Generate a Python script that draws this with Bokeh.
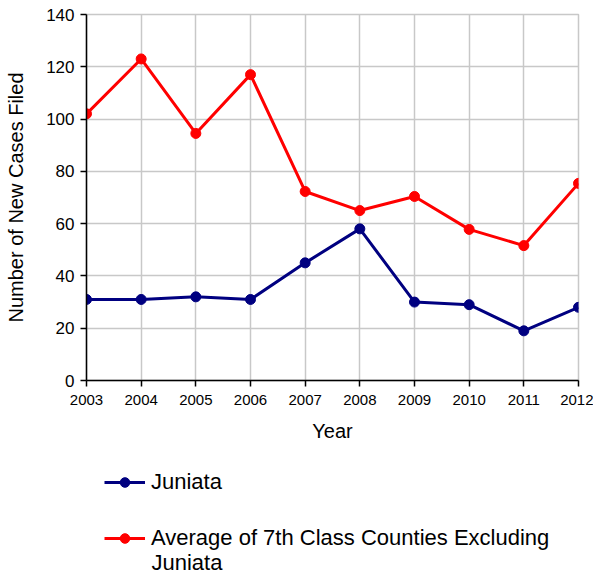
from bokeh.plotting import figure
from bokeh.layouts import column
from bokeh.models import Range1d, FixedTicker, Legend, LegendItem, Label
from bokeh.embed import file_html
from bokeh.resources import INLINE

years = [2003, 2004, 2005, 2006, 2007, 2008, 2009, 2010, 2011, 2012]
juniata = [31, 31, 32, 31, 45, 58, 30, 29, 19, 28]
average_7th = [102, 123, 94.5, 117, 72.3, 65, 70.4, 57.8, 51.6, 75.4]
y_ticks = [0, 20, 40, 60, 80, 100, 120, 140]
series_names = ["Juniata", "Average of 7th Class Counties Excluding", "Juniata"]

FONT = "Liberation Sans"
GRID = "#c8c8c8"
navy = "#000080"
red = "#ff0000"

p = figure(width=593, height=450, output_backend="svg", toolbar_location=None,
           x_range=Range1d(2003, 2012), y_range=Range1d(0, 140),
           min_border_left=86, min_border_right=15, min_border_top=14,
           min_border_bottom=70)

p.background_fill_color = "white"
p.border_fill_color = "white"
p.outline_line_color = GRID
p.outline_line_width = 1.5

p.xaxis.ticker = FixedTicker(ticks=years)
p.yaxis.ticker = FixedTicker(ticks=y_ticks)
p.xgrid.grid_line_color = GRID
p.ygrid.grid_line_color = GRID
p.xgrid.grid_line_width = 1.5
p.ygrid.grid_line_width = 1.5

for ax in (p.xaxis, p.yaxis):
    ax.axis_line_color = "black"
    ax.axis_line_width = 1.5
    ax.major_tick_line_color = "black"
    ax.major_tick_line_width = 1.5
    ax.major_tick_in = 0
    ax.major_tick_out = 6
    ax.minor_tick_line_color = None
    ax.major_label_text_font = FONT
    ax.axis_label_text_font = FONT
    ax.axis_label_text_font_style = "normal"
    ax.major_label_text_color = "black"
    ax.axis_label_text_color = "black"

p.xaxis.major_label_text_font_size = "15px"
p.yaxis.major_label_text_font_size = "17px"
p.xaxis.axis_label_text_font_size = "20px"
p.yaxis.axis_label_text_font_size = "20px"
p.xaxis.axis_label = "Year"
p.yaxis.axis_label = "Number of New Cases Filed"
p.xaxis.major_label_standoff = 8
p.yaxis.major_label_standoff = 6
p.xaxis.axis_label_standoff = 12
p.yaxis.axis_label_standoff = 16

p.line(years, juniata, line_color=navy, line_width=3)
p.scatter(years, juniata, size=10, fill_color=navy, line_color=navy)
p.line(years, average_7th, line_color=red, line_width=3)
p.scatter(years, average_7th, size=10, fill_color=red, line_color=red)

# legend panel (its frame is aligned with the chart's frame by the column layout)
q = figure(width=593, height=125, output_backend="svg", toolbar_location=None,
           x_range=Range1d(0, 1), y_range=Range1d(0, 1),
           min_border_left=86, min_border_right=15, min_border_top=0,
           min_border_bottom=0)
q.axis.visible = False
q.grid.visible = False
q.outline_line_color = None
q.background_fill_color = "white"
q.border_fill_color = "white"

# same series, outside this panel's view: only used for the legend swatches
ql1 = q.line(years, juniata, line_color=navy, line_width=3)
qc1 = q.scatter(years, juniata, size=8, fill_color=navy, line_color=navy)
ql2 = q.line(years, average_7th, line_color=red, line_width=3)
qc2 = q.scatter(years, average_7th, size=8, fill_color=red, line_color=red)

legend = Legend(items=[
    LegendItem(label=series_names[0], renderers=[ql1, qc1]),
    LegendItem(label=series_names[1], renderers=[ql2, qc2]),
], location=(18, 24))
legend.border_line_color = None
legend.background_fill_alpha = 0
legend.label_text_font = FONT
legend.label_text_font_size = "22px"
legend.label_text_color = "black"
legend.glyph_width = 41
legend.glyph_height = 24
legend.label_standoff = 6
legend.padding = 0
legend.margin = 0
legend.spacing = 30
q.add_layout(legend, "center")

q.add_layout(Label(x=65, y=13, x_units="screen", y_units="screen",
                   text=series_names[2], text_font=FONT, text_font_size="22px",
                   text_color="black", text_baseline="middle"))

open("out.html", "w").write(file_html(column(p, q, spacing=0), INLINE))
